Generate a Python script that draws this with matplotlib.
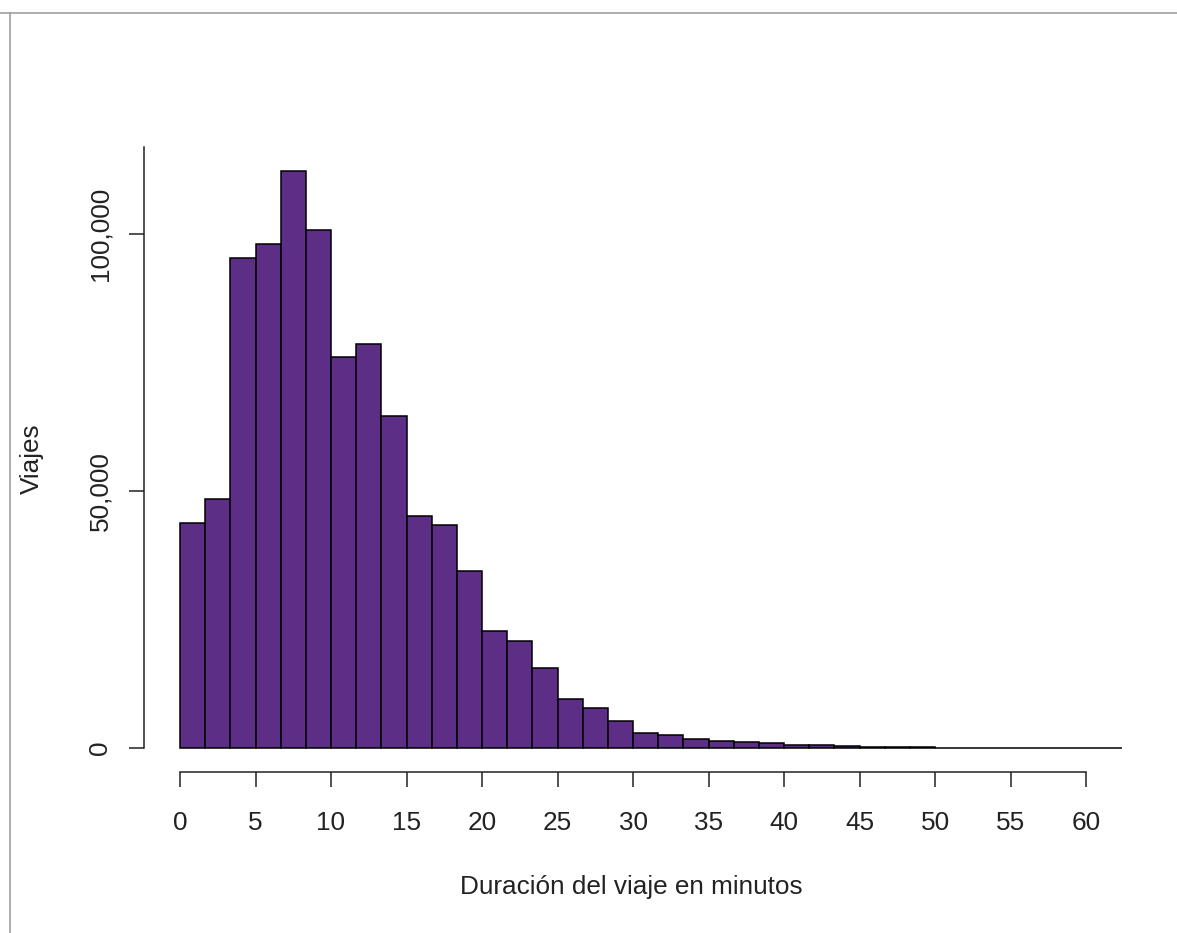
import matplotlib
matplotlib.use("Agg")
import matplotlib.pyplot as plt
from matplotlib.lines import Line2D

# ---- data ----
bin_width = 100 / 60  # minutes (100 s bins)
bin_edges = [i * bin_width for i in range(37)] + [62.4]
counts = [43700, 48300, 95400, 98000, 112300, 100700, 76100, 78500, 64500,
          45000, 43300, 34300, 22700, 20700, 15400, 9400, 7700, 5100,
          2800, 2400, 1750, 1200, 1100, 780, 450, 420, 200, 150, 120, 80,
          0, 0, 0, 0, 0, 0, 0]
x_ticks = [0, 5, 10, 15, 20, 25, 30, 35, 40, 45, 50, 55, 60]
y_ticks = [0, 50000, 100000]
y_tick_labels = ["0", "50,000", "100,000"]
x_label = "Duración del viaje en minutos"
y_label = "Viajes"

W, H = 1177, 933
plt.rcParams['font.family'] = ['Liberation Sans', 'DejaVu Sans']
fig = plt.figure(figsize=(W / 100, H / 100), dpi=100)

# axes placement in pixels
px_per_x = 15.1
x0_px = 180.0
left_px = 144.3
xmin = (left_px - x0_px) / px_per_x
right_px = 1155.0
xmax = (right_px - x0_px) / px_per_x
px_per_y = 513.5 / 100000
y0_px = 747.5
bottom_px = 771.7
top_px = 146.7
ymin = -(bottom_px - y0_px) / px_per_y
ymax = (y0_px - top_px) / px_per_y

ax = fig.add_axes([left_px / W, 1 - bottom_px / H,
                   (right_px - left_px) / W, (bottom_px - top_px) / H])
ax.set_xlim(xmin, xmax)
ax.set_ylim(ymin, ymax)

lefts = bin_edges[:-1]
widths = [bin_edges[i + 1] - bin_edges[i] for i in range(len(lefts))]
ax.bar(lefts, counts, width=widths, align='edge', color='#5C2E86',
       edgecolor='black', linewidth=1.1)

for s in ['top', 'right']:
    ax.spines[s].set_visible(False)
ax.spines['left'].set_bounds(0, ymax)
ax.spines['bottom'].set_bounds(0, 60)
for s in ['left', 'bottom']:
    ax.spines[s].set_linewidth(1.1)
    ax.spines[s].set_color('#222222')

ax.set_xticks(x_ticks)
ax.set_xticklabels([str(t) for t in x_ticks])
ax.set_yticks(y_ticks)
ax.set_yticklabels(y_tick_labels, rotation=90, va='center')
ax.tick_params(axis='both', direction='out', length=11, width=1.1,
               color='#222222', labelsize=18.8, labelcolor='#222222')
ax.tick_params(axis='x', pad=17)
ax.tick_params(axis='y', pad=12)

fig.text(631 / W, 1 - 887 / H, x_label, ha='center', va='center',
         fontsize=18.8, color='#222222')
fig.text(31.5 / W, 1 - 459 / H, y_label, ha='center', va='center',
         rotation=90, fontsize=18.8, color='#222222')

# grey frame of the screenshot (top and left)
fig.add_artist(Line2D([0, 1], [1 - 13 / H, 1 - 13 / H], transform=fig.transFigure,
                      color='#a0a0a0', linewidth=1.2))
fig.add_artist(Line2D([10 / W, 10 / W], [0, 1 - 13 / H], transform=fig.transFigure,
                      color='#a0a0a0', linewidth=1.2))

fig.savefig("out.png", dpi=100)
